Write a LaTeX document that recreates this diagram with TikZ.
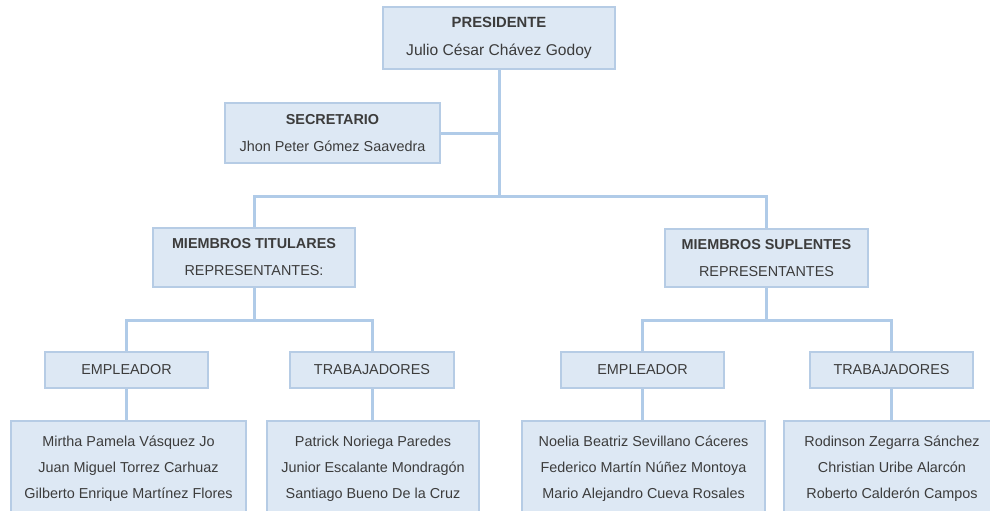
\documentclass[tikz,border=0pt]{standalone}
\usepackage{fontspec}
\setmainfont{Liberation Sans}
\usetikzlibrary{backgrounds}
\definecolor{boxfill}{HTML}{DDE8F4}
\definecolor{boxline}{HTML}{B6CCE5}
\definecolor{wire}{HTML}{B0CBE8}
\definecolor{ink}{HTML}{3C3C3C}
\begin{document}
\begin{tikzpicture}[x=1pt,y=-1pt,
  orgbox/.style={draw=boxline, fill=boxfill, line width=2.5pt, text=ink,
    inner sep=0pt, align=center, font=\fontsize{14.4}{27}\selectfont},
  wirestyle/.style={draw=wire, line width=3pt},
  namebox/.style={orgbox, font=\fontsize{14.4}{26}\selectfont}]
\useasboundingbox (0,0) rectangle (990,511);

% top of the chart
\node[orgbox, minimum width=232pt, minimum height=62pt,
  font=\fontsize{15.6}{28}\selectfont] (pres) at (499,38)
  {\textbf{\fontsize{14.8}{28}\selectfont PRESIDENTE}\\Julio César Chávez Godoy};
\node[orgbox, minimum width=215pt, minimum height=60pt] (sec) at (332.5,133)
  {\textbf{SECRETARIO}\\Jhon Peter Gómez Saavedra};

% the two member groups
\node[orgbox, minimum width=202pt, minimum height=59pt] (tit) at (254,257.5)
  {\textbf{MIEMBROS TITULARES}\\REPRESENTANTES:};
\node[orgbox, minimum width=203pt, minimum height=58pt] (sup) at (766.5,258)
  {\textbf{MIEMBROS SUPLENTES}\\REPRESENTANTES};

% sub-groups
\node[orgbox, minimum width=163pt, minimum height=36pt] (emp1) at (126.5,370) {EMPLEADOR};
\node[orgbox, minimum width=164pt, minimum height=36pt] (trab1) at (372,370) {TRABAJADORES};
\node[orgbox, minimum width=163pt, minimum height=36pt] (emp2) at (642.5,370) {EMPLEADOR};
\node[orgbox, minimum width=163pt, minimum height=36pt] (trab2) at (891.5,370) {TRABAJADORES};

% name lists
\node[namebox, minimum width=235pt, minimum height=96pt] (names1) at (128.5,469)
  {Mirtha Pamela Vásquez Jo\\Juan Miguel Torrez Carhuaz\\Gilberto Enrique Martínez Flores};
\node[namebox, minimum width=212pt, minimum height=96pt] (names2) at (373,469)
  {Patrick Noriega Paredes\\Junior Escalante Mondragón\\Santiago Bueno De la Cruz};
\node[namebox, minimum width=243pt, minimum height=96pt] (names3) at (643.5,469)
  {Noelia Beatriz Sevillano Cáceres\\Federico Martín Núñez Montoya\\Mario Alejandro Cueva Rosales};
\node[namebox, minimum width=216pt, minimum height=96pt] (names4) at (892,469)
  {Rodinson Zegarra Sánchez\\Christian Uribe Alarcón\\Roberto Calderón Campos};

% junction points
\coordinate (hub) at (499,196);
\coordinate (tbar) at (254,320);
\coordinate (sbar) at (766.5,320);

% connectors, kept behind the boxes
\begin{scope}[on background layer]
\draw[wirestyle] (pres.south) -- (hub);
\draw[wirestyle] (sec.east) -- (sec.east -| pres.south);
\draw[wirestyle] (tit.north) |- (hub) -| (sup.north);
\draw[wirestyle] (tit.south) -- (tbar);
\draw[wirestyle] (emp1.north) |- (tbar) -| (trab1.north);
\draw[wirestyle] (sup.south) -- (sbar);
\draw[wirestyle] (emp2.north) |- (sbar) -| (trab2.north);
\draw[wirestyle] (emp1.south) -- (emp1.south |- names1.north);
\draw[wirestyle] (trab1.south) -- (trab1.south |- names2.north);
\draw[wirestyle] (emp2.south) -- (emp2.south |- names3.north);
\draw[wirestyle] (trab2.south) -- (trab2.south |- names4.north);
\end{scope}
\end{tikzpicture}
\end{document}
